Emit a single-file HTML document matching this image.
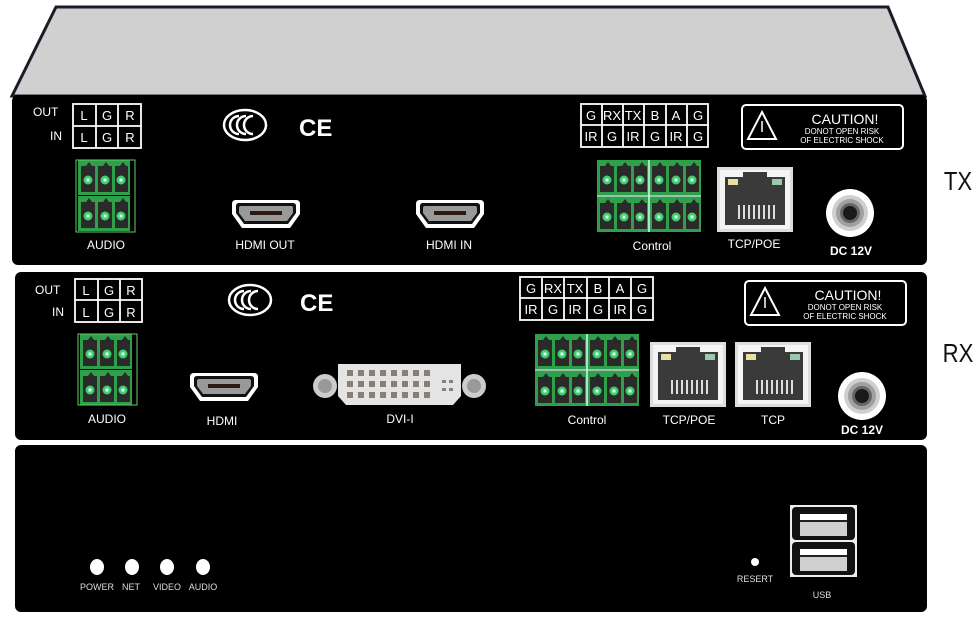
<!DOCTYPE html>
<html><head><meta charset="utf-8"><style>
html,body{margin:0;padding:0;background:#fff;}
svg{display:block;font-family:"Liberation Sans",Arial,sans-serif;}
</style></head><body>
<svg width="980" height="617" viewBox="0 0 980 617" xmlns="http://www.w3.org/2000/svg">
<defs>
  <g id="tb3">
    <rect x="0" y="0" width="52" height="35" fill="#2fa04a"/>
    <g fill="#2a2a2a">
      <path d="M3 6 h5 l3 -4 l3 4 h3 v26 h-14z"/>
      <path d="M20 6 h5 l3 -4 l3 4 h3 v26 h-14z"/>
      <path d="M37 6 h5 l3 -4 l3 4 h2 v26 h-13z"/>
    </g>
    <g fill="#3fcf6a"><circle cx="10" cy="20" r="4.5"/><circle cx="27" cy="20" r="4.5"/><circle cx="43" cy="20" r="4.5"/></g>
    <g fill="#dff"><rect x="8.5" y="18.5" width="3" height="3"/><rect x="25.5" y="18.5" width="3" height="3"/><rect x="41.5" y="18.5" width="3" height="3"/></g>
  </g>
  <g id="hdmi">
    <path d="M2 4 Q2 0 6 0 H66 Q70 0 70 4 V14 L60 28 H12 L2 14Z" fill="#fff"/>
    <path d="M6 6 Q6 3 9 3 H63 Q66 3 66 6 V13 L58 24 H14 L6 13Z" fill="#111"/>
    <path d="M9 8 Q9 6 11 6 H61 Q63 6 63 8 V13 L57 21 H15 L9 13Z" fill="#999"/>
    <rect x="20" y="11" width="32" height="4" fill="#2a1a10"/>
  </g>
  <g id="rj">
    <rect x="0" y="0" width="76" height="65" fill="#ddd"/>
    <rect x="3" y="3" width="70" height="59" fill="#f4f4f4"/>
    <path d="M8 10 H26 V5 H50 V10 H68 V58 H8Z" fill="#3a3a3a"/>
    <rect x="11" y="12" width="10" height="6" fill="#e8e0a0"/>
    <rect x="55" y="12" width="10" height="6" fill="#9cc8b0"/>
    <g stroke="#ddd" stroke-width="2">
      <line x1="22" y1="38" x2="22" y2="52"/><line x1="27" y1="38" x2="27" y2="52"/><line x1="32" y1="38" x2="32" y2="52"/><line x1="37" y1="38" x2="37" y2="52"/><line x1="42" y1="38" x2="42" y2="52"/><line x1="47" y1="38" x2="47" y2="52"/><line x1="52" y1="38" x2="52" y2="52"/><line x1="57" y1="38" x2="57" y2="52"/>
    </g>
  </g>
  <g id="dc">
    <circle r="24" fill="#fff"/>
    <circle r="18" fill="#cfcfcf"/>
    <circle r="14" fill="#a0a0a0"/>
    <circle r="10" fill="#666"/>
    <circle r="7" fill="#1a1a1a"/>
  </g>
  <g id="ccc">
    <ellipse cx="0" cy="0" rx="21" ry="15" fill="none" stroke="#fff" stroke-width="2.5"/>
    <g fill="none" stroke="#fff" stroke-width="2.5">
      <path d="M-6 -9 A9 9 0 1 0 -6 9"/><path d="M1 -9 A9 9 0 1 0 1 9"/><path d="M8 -9 A9 9 0 1 0 8 9"/>
    </g>
  </g>
  <g id="caution">
    <rect x="0" y="0" width="161" height="44" rx="4" fill="none" stroke="#fff" stroke-width="2"/>
    <path d="M20 7 L34 34 H6Z" fill="none" stroke="#fff" stroke-width="2"/>
    <line x1="20" y1="16" x2="20" y2="27" stroke="#fff" stroke-width="1.5"/>
    <text x="103" y="19" fill="#fff" font-size="14" text-anchor="middle">CAUTION!</text>
    <text x="100" y="29" fill="#fff" font-size="8" text-anchor="middle">DONOT OPEN RISK</text>
    <text x="100" y="38" fill="#fff" font-size="8" text-anchor="middle">OF ELECTRIC SHOCK</text>
  </g>
</defs>

<path d="M56 7 H888 L925 96 H12Z" fill="#d0d0d0" stroke="#1c1c28" stroke-width="3"/>

<!-- TX panel -->
<rect x="12" y="95" width="915" height="170" rx="6" fill="#000"/>
<g font-size="12" fill="#fff">
  <text x="33" y="116">OUT</text><text x="50" y="140">IN</text>
</g>
<g fill="none" stroke="#fff" stroke-width="1.8">
  <rect x="73" y="104" width="68" height="44"/><line x1="73" y1="126" x2="141" y2="126"/>
  <line x1="96" y1="104" x2="96" y2="148"/><line x1="118" y1="104" x2="118" y2="148"/>
</g>
<g font-size="13" fill="#fff" text-anchor="middle">
  <text x="84" y="120">L</text><text x="107" y="120">G</text><text x="130" y="120">R</text>
  <text x="84" y="142">L</text><text x="107" y="142">G</text><text x="130" y="142">R</text>
</g>
<use href="#tb3" x="78" y="160"/><use href="#tb3" x="78" y="196"/>
<rect x="76" y="160" width="59" height="72" fill="none" stroke="#6c6" stroke-width="1"/>
<text x="106" y="249" fill="#fff" font-size="12" text-anchor="middle">AUDIO</text>
<use href="#ccc" x="245" y="125"/>
<text x="299" y="136" fill="#fff" font-size="24" font-weight="bold">CE</text>
<use href="#hdmi" x="230" y="200"/>
<text x="265" y="249" fill="#fff" font-size="12" text-anchor="middle">HDMI OUT</text>
<use href="#hdmi" x="414" y="200"/>
<text x="449" y="249" fill="#fff" font-size="12" text-anchor="middle">HDMI IN</text>
<g fill="none" stroke="#fff" stroke-width="1.8">
  <rect x="581" y="104" width="127" height="43"/><line x1="581" y1="125" x2="708" y2="125"/>
  <line x1="602" y1="104" x2="602" y2="147"/><line x1="623" y1="104" x2="623" y2="147"/><line x1="644" y1="104" x2="644" y2="147"/><line x1="666" y1="104" x2="666" y2="147"/><line x1="687" y1="104" x2="687" y2="147"/>
</g>
<g font-size="13" fill="#fff" text-anchor="middle">
  <text x="591" y="120">G</text><text x="612" y="120">RX</text><text x="633" y="120">TX</text><text x="655" y="120">B</text><text x="676" y="120">A</text><text x="698" y="120">G</text>
  <text x="591" y="141">IR</text><text x="612" y="141">G</text><text x="633" y="141">IR</text><text x="655" y="141">G</text><text x="676" y="141">IR</text><text x="698" y="141">G</text>
</g>
<use href="#caution" x="742" y="105"/>
<use href="#tb3" x="597" y="160"/><use href="#tb3" x="649" y="160"/>
<use href="#tb3" x="597" y="197"/><use href="#tb3" x="649" y="197"/>
<line x1="597" y1="196" x2="701" y2="196" stroke="#cfe" stroke-width="1.5"/><line x1="649" y1="160" x2="649" y2="232" stroke="#cfe" stroke-width="1.5"/>
<text x="652" y="250" fill="#fff" font-size="12" text-anchor="middle">Control</text>
<use href="#rj" x="717" y="167"/>
<text x="754" y="248" fill="#fff" font-size="12" text-anchor="middle">TCP/POE</text>
<use href="#dc" x="850" y="213"/>
<text x="851" y="255" fill="#fff" font-size="12" font-weight="bold" text-anchor="middle">DC 12V</text>
<text x="958" y="190" fill="#111" font-size="26" text-anchor="middle" transform="translate(958 0) scale(0.85 1) translate(-958 0)">TX</text>

<!-- RX panel -->
<rect x="15" y="272" width="912" height="168" rx="6" fill="#000"/>
<g font-size="12" fill="#fff">
  <text x="35" y="294">OUT</text><text x="52" y="316">IN</text>
</g>
<g fill="none" stroke="#fff" stroke-width="1.8">
  <rect x="75" y="279" width="67" height="43"/><line x1="75" y1="300" x2="142" y2="300"/>
  <line x1="98" y1="279" x2="98" y2="322"/><line x1="120" y1="279" x2="120" y2="322"/>
</g>
<g font-size="13" fill="#fff" text-anchor="middle">
  <text x="86" y="295">L</text><text x="109" y="295">G</text><text x="131" y="295">R</text>
  <text x="86" y="317">L</text><text x="109" y="317">G</text><text x="131" y="317">R</text>
</g>
<use href="#tb3" x="80" y="334"/><use href="#tb3" x="80" y="370"/>
<rect x="78" y="334" width="59" height="71" fill="none" stroke="#6c6" stroke-width="1"/>
<text x="107" y="423" fill="#fff" font-size="12" text-anchor="middle">AUDIO</text>
<use href="#ccc" x="250" y="300"/>
<text x="300" y="311" fill="#fff" font-size="24" font-weight="bold">CE</text>
<use href="#hdmi" x="188" y="373"/>
<text x="222" y="425" fill="#fff" font-size="12" text-anchor="middle">HDMI</text>
<circle cx="325" cy="386" r="12" fill="#ccc"/><circle cx="325" cy="386" r="7" fill="#999"/>
<circle cx="474" cy="386" r="12" fill="#ccc"/><circle cx="474" cy="386" r="7" fill="#999"/>
<path d="M338 364 H461 V396 L453 405 H346 L338 396Z" fill="#e4e4e4"/>
<g fill="#8a7f74">
  <rect x="347" y="370" width="6" height="6"/><rect x="358" y="370" width="6" height="6"/><rect x="369" y="370" width="6" height="6"/><rect x="380" y="370" width="6" height="6"/><rect x="391" y="370" width="6" height="6"/><rect x="402" y="370" width="6" height="6"/><rect x="413" y="370" width="6" height="6"/><rect x="424" y="370" width="6" height="6"/>
  <rect x="347" y="381" width="6" height="6"/><rect x="358" y="381" width="6" height="6"/><rect x="369" y="381" width="6" height="6"/><rect x="380" y="381" width="6" height="6"/><rect x="391" y="381" width="6" height="6"/><rect x="402" y="381" width="6" height="6"/><rect x="413" y="381" width="6" height="6"/><rect x="424" y="381" width="6" height="6"/>
  <rect x="347" y="392" width="6" height="6"/><rect x="358" y="392" width="6" height="6"/><rect x="369" y="392" width="6" height="6"/><rect x="380" y="392" width="6" height="6"/><rect x="391" y="392" width="6" height="6"/><rect x="402" y="392" width="6" height="6"/><rect x="413" y="392" width="6" height="6"/><rect x="424" y="392" width="6" height="6"/>
  <rect x="442" y="380" width="4" height="3"/><rect x="449" y="380" width="4" height="3"/><rect x="442" y="388" width="4" height="3"/><rect x="449" y="388" width="4" height="3"/>
</g>
<text x="400" y="423" fill="#fff" font-size="12" text-anchor="middle">DVI-I</text>
<g fill="none" stroke="#fff" stroke-width="1.8">
  <rect x="520" y="277" width="133" height="43"/><line x1="520" y1="298" x2="653" y2="298"/>
  <line x1="542" y1="277" x2="542" y2="320"/><line x1="564" y1="277" x2="564" y2="320"/><line x1="587" y1="277" x2="587" y2="320"/><line x1="609" y1="277" x2="609" y2="320"/><line x1="631" y1="277" x2="631" y2="320"/>
</g>
<g font-size="13" fill="#fff" text-anchor="middle">
  <text x="531" y="293">G</text><text x="553" y="293">RX</text><text x="575" y="293">TX</text><text x="598" y="293">B</text><text x="620" y="293">A</text><text x="642" y="293">G</text>
  <text x="531" y="314">IR</text><text x="553" y="314">G</text><text x="575" y="314">IR</text><text x="598" y="314">G</text><text x="620" y="314">IR</text><text x="642" y="314">G</text>
</g>
<use href="#caution" x="745" y="281"/>
<use href="#tb3" x="535" y="334"/><use href="#tb3" x="587" y="334"/>
<use href="#tb3" x="535" y="371"/><use href="#tb3" x="587" y="371"/>
<line x1="535" y1="370" x2="639" y2="370" stroke="#cfe" stroke-width="1.5"/><line x1="587" y1="334" x2="587" y2="406" stroke="#cfe" stroke-width="1.5"/>
<text x="587" y="424" fill="#fff" font-size="12" text-anchor="middle">Control</text>
<use href="#rj" x="650" y="342"/>
<text x="689" y="424" fill="#fff" font-size="12" text-anchor="middle">TCP/POE</text>
<use href="#rj" x="735" y="342"/>
<text x="773" y="424" fill="#fff" font-size="12" text-anchor="middle">TCP</text>
<use href="#dc" x="862" y="396"/>
<text x="862" y="434" fill="#fff" font-size="12" font-weight="bold" text-anchor="middle">DC 12V</text>
<text x="958" y="362" fill="#111" font-size="26" text-anchor="middle" transform="translate(958 0) scale(0.85 1) translate(-958 0)">RX</text>

<!-- Front panel -->
<rect x="15" y="445" width="912" height="167" rx="6" fill="#000"/>
<g fill="#fff">
  <ellipse cx="97" cy="567" rx="7" ry="8"/><ellipse cx="132" cy="567" rx="7" ry="8"/><ellipse cx="167" cy="567" rx="7" ry="8"/><ellipse cx="203" cy="567" rx="7" ry="8"/>
</g>
<g font-size="9" fill="#ddd" text-anchor="middle">
  <text x="97" y="590">POWER</text><text x="131" y="590">NET</text><text x="167" y="590">VIDEO</text><text x="203" y="590">AUDIO</text>
  <text x="755" y="582">RESERT</text><text x="822" y="598">USB</text>
</g>
<circle cx="755" cy="562" r="4" fill="#fff"/>
<rect x="790" y="505" width="67" height="72" fill="#eee"/>
<rect x="792" y="507" width="63" height="33" rx="4" fill="#111"/>
<rect x="792" y="542" width="63" height="33" rx="4" fill="#111"/>
<rect x="800" y="514" width="47" height="22" fill="#d0d0d0"/><rect x="800" y="514" width="47" height="6" fill="#fff"/><rect x="800" y="520" width="47" height="2" fill="#222"/>
<rect x="800" y="549" width="47" height="22" fill="#d0d0d0"/><rect x="800" y="549" width="47" height="6" fill="#fff"/><rect x="800" y="555" width="47" height="2" fill="#222"/>
</svg>
</body></html>
